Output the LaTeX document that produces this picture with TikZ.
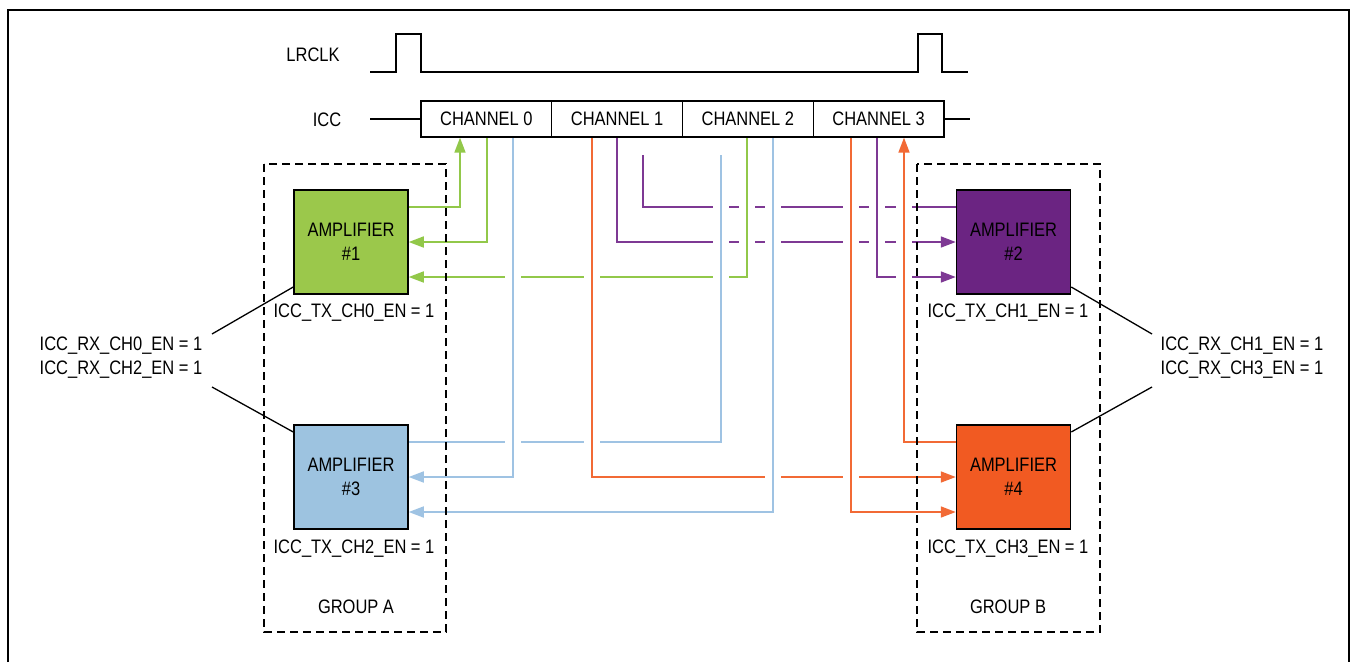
\documentclass[tikz,border=0pt]{standalone}
\usepackage{fontspec}
\setmainfont{Liberation Sans}[FakeStretch=0.845]
\usetikzlibrary{arrows.meta}
\pgfdeclarelayer{fg}
\pgfsetlayers{main,fg}
\definecolor{gfill}{HTML}{9BC84B}
\definecolor{gcol}{HTML}{92C84A}
\definecolor{bfill}{HTML}{9DC3E0}
\definecolor{bcol}{HTML}{9FC3E3}
\definecolor{pfill}{HTML}{6B2482}
\definecolor{pcol}{HTML}{7E3994}
\definecolor{ofill}{HTML}{F15A22}
\definecolor{ocol}{HTML}{F26A35}
\begin{document}
\begin{tikzpicture}[x=1pt,y=-1pt,font=\fontsize{19.5}{24}\selectfont,
  amp/.style={draw=black,line width=1.5pt,minimum width=114pt,minimum height=104pt,inner sep=0pt,align=center},
  chbox/.style={draw=black,fill=white,line width=1.3pt,minimum width=130.75pt,minimum height=36pt,inner sep=0pt},
  grp/.style={draw=black,line width=1.4pt,dash pattern=on 8pt off 5pt},
  txt/.style={inner sep=0pt,align=center},
  conn/.style={line width=1.7pt,preaction={draw=white,line width=16pt,arrows=-}},
  tip/.style={-{Triangle[length=15pt,width=11pt]}},
  gline/.style={color=gcol},
  bline/.style={color=bcol},
  pline/.style={color=pcol},
  oline/.style={color=ocol},
  wave/.style={line width=1.5pt,black},
  lbl/.style={line width=1.3pt,black}]
\useasboundingbox (0,0) rectangle (1353,662);
\draw[line width=1.5pt] (8,662) -- (8,10) -- (1349,10) -- (1349,662);

\begin{pgfonlayer}{fg}
  \node[txt] (lrclk) at (313,55) {LRCLK};
  \node[txt] (icc) at (327,120) {ICC};
  \node[chbox] (ch0) at (486.4,119) {CHANNEL 0};
  \node[chbox] (ch1) at (617.1,119) {CHANNEL 1};
  \node[chbox] (ch2) at (747.9,119) {CHANNEL 2};
  \node[chbox] (ch3) at (878.6,119) {CHANNEL 3};
  \draw[grp] (264,164) rectangle (446,632);
  \draw[grp] (917,164) rectangle (1100,632);
  \node[amp,fill=gfill] (amp1) at (351,242) {AMPLIFIER\\\#1};
  \node[amp,fill=pfill] (amp2) at (1013.5,242) {AMPLIFIER\\\#2};
  \node[amp,fill=bfill] (amp3) at (351,477) {AMPLIFIER\\\#3};
  \node[amp,fill=ofill] (amp4) at (1013.5,477) {AMPLIFIER\\\#4};
  \node[txt] (tx0) at (354,313) {ICC\_TX\_CH0\_EN = 1};
  \node[txt] (tx1) at (1008,313) {ICC\_TX\_CH1\_EN = 1};
  \node[txt] (tx2) at (354,549) {ICC\_TX\_CH2\_EN = 1};
  \node[txt] (tx3) at (1008,549) {ICC\_TX\_CH3\_EN = 1};
  \node[txt] (ga) at (356,607) {GROUP A};
  \node[txt] (gb) at (1008,607) {GROUP B};
  \node[txt] (rxl) at (121,358) {ICC\_RX\_CH0\_EN = 1\\ICC\_RX\_CH2\_EN = 1};
  \node[txt] (rxr) at (1242,358) {ICC\_RX\_CH1\_EN = 1\\ICC\_RX\_CH3\_EN = 1};
\end{pgfonlayer}

% LRCLK waveform and ICC line
\coordinate (wstart) at (370,72);
\coordinate (wend) at (968,72);
\draw[wave] (wstart) -- (396,72) -- (396,34) -- (421,34) -- (421,72) -- (918,72) -- (918,34) -- (942,34) -- (942,72) -- (wend);
\coordinate (iccL) at (370,119);
\coordinate (iccR) at (970,119);
\draw[wave] (iccL) -- (ch0.west);
\draw[wave] (ch3.east) -- (iccR);

% label leader lines
\coordinate (lu) at (212,334);
\coordinate (ll) at (212,387);
\coordinate (ru) at (1152,334);
\coordinate (rl) at (1152,387);
\draw[lbl] (amp1.west |- 0,287) -- (lu);
\draw[lbl] (ll) -- (amp3.west |- 0,432);
\draw[lbl] (amp2.east |- 0,287) -- (ru);
\draw[lbl] (rl) -- (amp4.east |- 0,432);

% connectors (order sets which line shows a gap at a crossing)
\coordinate (p1end) at (643,155);
\coordinate (b2end) at (721,155);
\draw[conn,pline] (amp2.west |- 0,207) -| (p1end);
\draw[conn,pline,tip] (ch1.south -| 617,0) |- (amp2.west);
\draw[conn,pline,tip] (ch3.south -| 877,0) |- (amp2.west |- 0,277);
\draw[conn,gline,tip] (ch2.south -| 747,0) |- (amp1.east |- 0,277);
\draw[conn,bline] (amp3.east |- 0,442) -| (b2end);
\draw[conn,oline,tip] (ch1.south -| 592,0) |- (amp4.west);
\draw[conn,oline,tip] (amp4.west |- 0,442) -| (ch3.south -| 904,0);
\draw[conn,oline,tip] (ch3.south -| 851,0) |- (amp4.west |- 0,512);
\draw[conn,bline,tip] (ch2.south -| 773,0) |- (amp3.east |- 0,512);
\draw[conn,bline,tip] (ch0.south -| 513,0) |- (amp3.east);
\draw[conn,gline,tip] (amp1.east |- 0,207) -| (ch0.south -| 460,0);
\draw[conn,gline,tip] (ch0.south -| 487,0) |- (amp1.east);
\end{tikzpicture}
\end{document}
